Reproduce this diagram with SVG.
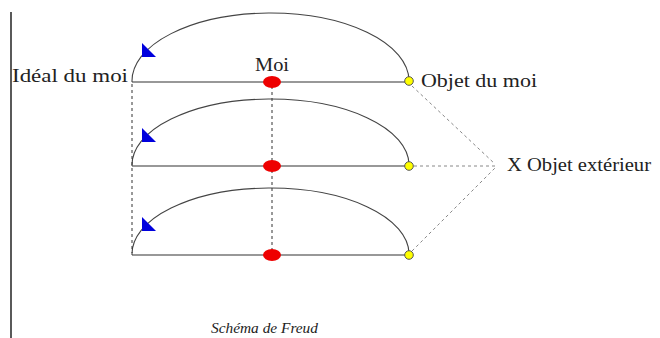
<svg xmlns="http://www.w3.org/2000/svg" width="660" height="338" viewBox="0 0 660 338">
<style>
.arc{fill:none;stroke:#444;stroke-width:1.1}
.base{stroke:#333;stroke-width:1.2}
.vdash{stroke:#333;stroke-width:1;stroke-dasharray:3,3}
.gdash{stroke:#888;stroke-width:1;stroke-dasharray:3,3;fill:none}
.moi{fill:#ee0000}
.obj{fill:#ffff00;stroke:#555;stroke-width:1}
.tri{fill:#0000dd}
.t{font-family:"Liberation Serif","DejaVu Serif",serif;font-size:19.5px;fill:#222}
.cap{font-family:"Liberation Serif","DejaVu Serif",serif;font-size:15px;font-style:italic;fill:#222}
</style>
<rect width="660" height="338" fill="#fff"/>
<line x1="11" y1="12" x2="11" y2="338" stroke="#000" stroke-width="1.3"/>
<g id="connectors">
<path class="arc" d="M132,82 A138.5,68 0 0 1 409,80"/>
<path class="arc" d="M132,166 A138.5,66 0 0 1 409,164"/>
<path class="arc" d="M132,255 A138.5,66 0 0 1 409,253"/>
<line class="base" x1="132" y1="82" x2="409" y2="82"/>
<line class="base" x1="132" y1="166" x2="409" y2="166"/>
<line class="base" x1="132" y1="255" x2="409" y2="255"/>
<line class="vdash" x1="132" y1="84" x2="132" y2="253"/>
<line class="vdash" x1="272" y1="86" x2="272" y2="251"/>
<line class="gdash" x1="412" y1="86" x2="495" y2="164"/>
<line class="gdash" x1="414" y1="166" x2="495" y2="166"/>
<line class="gdash" x1="412" y1="251" x2="495" y2="168"/>
</g>
<g id="arrow1"><polygon class="tri" points="142,43 142,57 156,57"/></g>
<g id="arrow2"><polygon class="tri" points="142,128 142,142 156,142"/></g>
<g id="arrow3"><polygon class="tri" points="142,217 142,231 156,231"/></g>
<g id="moi1"><ellipse class="moi" cx="272" cy="82" rx="9" ry="6"/></g>
<g id="moi2"><ellipse class="moi" cx="272" cy="166" rx="9" ry="6"/></g>
<g id="moi3"><ellipse class="moi" cx="272" cy="255" rx="9" ry="6"/></g>
<g id="obj1"><circle class="obj" cx="409" cy="81" r="4.3"/></g>
<g id="obj2"><circle class="obj" cx="409" cy="166" r="4.3"/></g>
<g id="obj3"><circle class="obj" cx="409" cy="255" r="4.3"/></g>
<g id="labels">
<text class="t" x="12" y="82" textLength="116" lengthAdjust="spacingAndGlyphs">Idéal du moi</text>
<text class="t" x="255" y="71" textLength="34" lengthAdjust="spacingAndGlyphs">Moi</text>
<text class="t" x="421" y="87" textLength="116" lengthAdjust="spacingAndGlyphs">Objet du moi</text>
<text class="t" x="507" y="171" textLength="144" lengthAdjust="spacingAndGlyphs">X  Objet extérieur</text>
<text class="cap" x="211" y="333" textLength="107" lengthAdjust="spacingAndGlyphs">Schéma de Freud</text>
</g>
</svg>
